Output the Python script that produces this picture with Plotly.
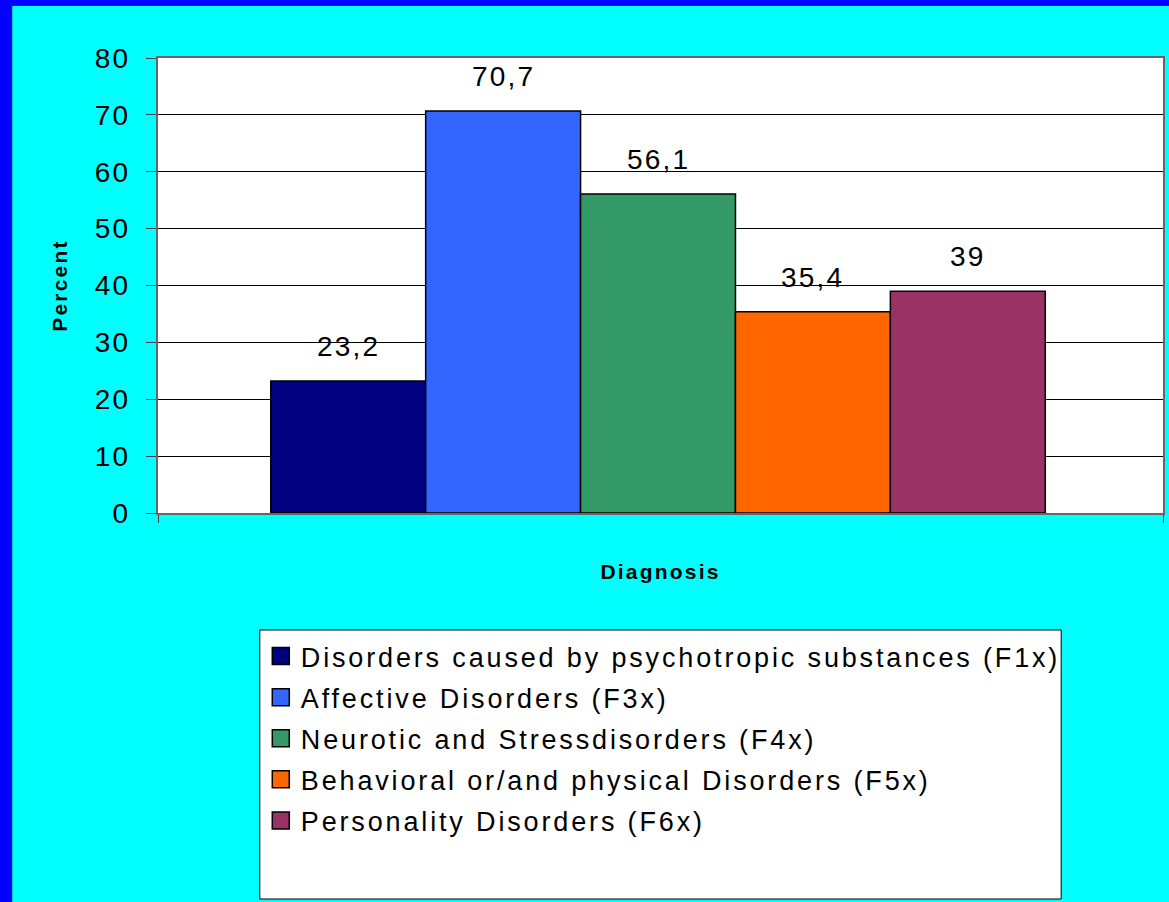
import plotly.graph_objects as go

categories = ["Disorders caused by psychotropic substances (F1x)",
              "Affective Disorders (F3x)",
              "Neurotic and Stressdisorders (F4x)",
              "Behavioral or/and physical Disorders (F5x)",
              "Personality Disorders (F6x)"]
values = [23.2, 70.7, 56.1, 35.4, 39]
labels = ["23,2", "70,7", "56,1", "35,4", "39"]
colors = ["#000080", "#3366FF", "#339966", "#FF6600", "#993366"]
y_ticks = [0, 10, 20, 30, 40, 50, 60, 70, 80]

FONT = "Liberation Sans, Arial, sans-serif"
L, T, R, B = 158, 58, 4, 389
W, H = 1169, 902
pw, ph = W - L - R, H - T - B

X_RANGE = [-1.228, 5.26]

fig = go.Figure()
for i, (c, v, col) in enumerate(zip(categories, values, colors)):
    fig.add_trace(go.Bar(
        x=[i], y=[v], name=c, width=1,
        marker=dict(color=col, line=dict(color="black", width=1.5)),
        legendgroup=f"g{i}",
    ))

annotations = [
    dict(x=i, y=v, text=lab, xref="x", yref="y", showarrow=False, yanchor="bottom",
         yshift=17, font=dict(size=28, family=FONT, color="black"))
    for i, (v, lab) in enumerate(zip(values, labels))
]

def px_x(p):
    return (p - L) / pw

def px_y(p):
    return (H - B - p) / ph

fig.update_layout(
    width=W, height=H,
    margin=dict(l=L, r=R, t=T, b=B, pad=0),
    paper_bgcolor="#00FFFF", plot_bgcolor="white",
    barmode="overlay",
    font=dict(family=FONT, color="black"),
    xaxis=dict(range=X_RANGE, tickvals=X_RANGE, ticktext=["", ""], ticks="outside",
               ticklen=8, tickcolor="#444", showgrid=False, zeroline=False,
               showline=True, linecolor="#666", linewidth=2, mirror=True,
               title=dict(text="<b>Diagnosis</b>", font=dict(size=21, family=FONT), standoff=40)),
    yaxis=dict(range=[0, 80], tickvals=y_ticks, ticks="outside", ticklen=10, tickcolor="#444",
               tickfont=dict(size=28, family=FONT), showgrid=True, gridcolor="black", gridwidth=1,
               zeroline=False, showline=True, linecolor="#666", linewidth=2, mirror=True,
               ticklabelstandoff=10,
               title=dict(text="<b>Percent</b>", font=dict(size=21, family=FONT), standoff=22)),
    legend=dict(x=px_x(261), y=px_y(632), xanchor="left", yanchor="top",
                bgcolor="rgba(0,0,0,0)", borderwidth=0,
                font=dict(size=27, family=FONT), tracegroupgap=3, itemwidth=30),
    showlegend=True,
    annotations=annotations,
    shapes=[
        dict(type="rect", xref="paper", yref="paper", x0=px_x(260), x1=px_x(1063), y0=px_y(899), y1=px_y(630),
             fillcolor="white", line=dict(color="black", width=1), layer="above"),
        dict(type="rect", xref="paper", yref="paper", x0=px_x(-5), x1=px_x(11.5), y0=px_y(H + 5), y1=px_y(-5),
             fillcolor="#0000FF", line=dict(width=0), layer="above"),
        dict(type="rect", xref="paper", yref="paper", x0=px_x(-5), x1=px_x(W + 5), y0=px_y(5.5), y1=px_y(-5),
             fillcolor="#0000FF", line=dict(width=0), layer="above"),
        dict(type="line", xref="paper", yref="paper", x0=px_x(11.5), x1=px_x(11.5), y0=px_y(H + 5), y1=px_y(5.5),
             line=dict(color="#222", width=1)),
        dict(type="line", xref="paper", yref="paper", x0=px_x(11.5), x1=px_x(W + 5), y0=px_y(5.5), y1=px_y(5.5),
             line=dict(color="#222", width=1)),
    ],
)

post = """
var st = document.createElement('style');
st.textContent = 'html, body { margin: 0; padding: 0; overflow: hidden; } '
  + 'svg text { letter-spacing: 2.2px !important; } '
  + 'svg text.legendtext { letter-spacing: 2.85px !important; }';
document.head.appendChild(st);
var gd = document.querySelector('.plotly-graph-div');
var F2 = 'Liberation Sans, Arial, Helvetica, sans-serif';
var lay = gd.layout;
lay.font.family = F2;
lay.legend.font.family = F2;
lay.yaxis.tickfont.family = F2;
lay.yaxis.title.font.family = F2;
lay.xaxis.title.font.family = F2;
(lay.annotations || []).forEach(function (a) { a.font.family = F2; });
Plotly.newPlot(gd, gd.data, lay, {displayModeBar: false}).then(function () {
  gd.querySelectorAll('.legendpoints path').forEach(function (p) {
    p.setAttribute('d', 'M8.5,8.5H-8.5V-8.5H8.5Z');
  });
});
"""

fig.write_html("out.html", post_script=post, config={"displayModeBar": False})
